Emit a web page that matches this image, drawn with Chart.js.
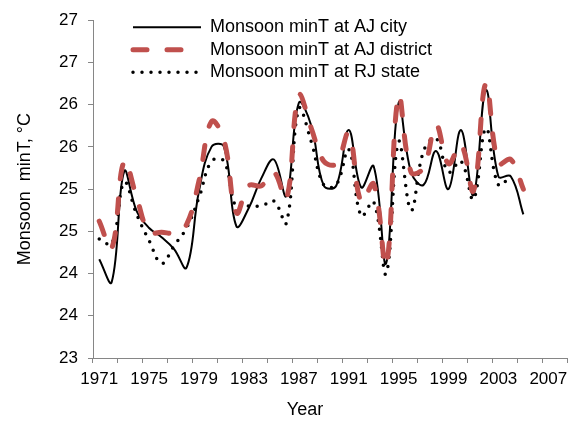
<!DOCTYPE html>
<html>
<head>
<meta charset="utf-8">
<script src="https://cdn.jsdelivr.net/npm/chart.js@4/dist/chart.umd.min.js"></script>
<style>
  html, body { margin: 0; padding: 0; background: #fff; }
  #wrap { width: 572px; height: 421px; }
</style>
</head>
<body>
<div id="wrap"><canvas id="chart"></canvas></div>
<script>
// categories on the x axis (data runs 1971-2005, the axis goes on to 2008)
const years = ['1971', '1972', '1973', '1974', '1975', '1976', '1977', '1978', '1979', '1980',
    '1981', '1982', '1983', '1984', '1985', '1986', '1987', '1988', '1989', '1990',
    '1991', '1992', '1993', '1994', '1995', '1996', '1997', '1998', '1999', '2000',
    '2001', '2002', '2003', '2004', '2005', '2006', '2007', '2008'];

const ajCity = [24.17, 23.9, 25.21, 24.74, 24.54, 24.43, 24.29, 24.07, 24.98, 25.5,
    25.5, 24.56, 24.78, 25.13, 25.35, 24.92, 26.02, 25.75, 25.04, 25.04,
    25.7, 25.02, 25.27, 24.12, 26.02, 25.2, 25.05, 25.45, 25.0, 25.7,
    24.93, 26.17, 25.15, 25.15, 24.7];

const ajDistrict = [24.62, 24.3, 25.33, 24.9, 24.49, 24.49, 24.48, 24.58, 25.1, 25.8,
    25.58, 24.72, 25.04, 25.04, 25.2, 24.88, 26.11, 25.72, 25.33, 25.3,
    25.66, 24.85, 25.06, 24.1, 26.1, 25.2, 25.25, 25.76, 25.3, 25.53,
    24.98, 26.25, 25.3, 25.35, 25.0];

const rjState = [24.41, 24.35, 25.08, 24.7, 24.39, 24.12, 24.33, 24.54, 24.9, 25.33,
    25.33, 24.78, 24.8, 24.8, 24.86, 24.6, 25.95, 25.56, 25.05, 25.05,
    25.47, 24.68, 24.85, 24.0, 25.56, 24.75, 25.45, 25.6, 25.2, 25.33,
    24.88, 25.72, 25.05, 25.15, null];

const axisGray = '#868686';
const textColor = '#000';

Chart.defaults.font.family = '"Liberation Sans", Arial, sans-serif';
Chart.defaults.font.size = 17;
Chart.defaults.color = textColor;

// put the legend inside the plot, a little right of the y axis
const legendSpot = {
    id: 'legendSpot',
    afterLayout(chart) {
        let lg = chart.legend;
        let area = chart.chartArea;
        lg.left = area.left + 35.5;
        lg.top = area.top - 6.5;
        lg.right = area.right;
        lg.bottom = area.bottom;
    }
};

new Chart(document.getElementById('chart'), {
    type: 'line',
    plugins: [legendSpot],
    data: {
        labels: years,
        datasets: [{
            label: 'Monsoon minT at AJ city',
            data: ajCity,
            borderColor: '#000',
            borderWidth: 2,
            order: 2,
        }, {
            label: 'Monsoon minT at AJ district',
            data: ajDistrict,
            borderColor: '#c0504d',
            borderWidth: 5,
            borderDash: [14, 20],
            borderCapStyle: 'round',
            order: 1,
        }, {
            label: 'Monsoon minT at RJ state',
            data: rjState,
            borderColor: '#000',
            borderWidth: 3.5,
            borderDash: [0, 9],
            borderCapStyle: 'round',
            order: 3,
        }]
    },
    options: {
        responsive: true,
        maintainAspectRatio: false,
        animation: false,
        devicePixelRatio: 1,
        layout: {
            padding: { top: 18, right: 5, bottom: 0, left: 0 }
        },
        elements: {
            point: { radius: 0 },
            line: { tension: 0.4, fill: false }
        },
        scales: {
            x: {
                type: 'category',
                offset: true,
                grid: {
                    offset: true,
                    drawOnChartArea: false,
                    tickLength: 5,
                    color: c => (c.index === undefined || c.index % 2 === 0) ? axisGray : 'rgba(0,0,0,0)',
                },
                border: { color: axisGray, width: 1 },
                ticks: {
                    autoSkip: false,
                    maxRotation: 0,
                    padding: 6,
                    callback: (v, i) => i % 4 === 0 ? years[i] : '',
                },
                title: {
                    display: true,
                    // trailing spaces pull the centred word left, as in the original
                    text: 'Year          ',
                    font: { size: 18 },
                    padding: { top: 4, bottom: 0 },
                },
                afterFit: s => { s.height = 63; },
            },
            y: {
                min: 23,
                max: 27,
                ticks: {
                    stepSize: 0.5,
                    padding: 10,
                    callback: v => Math.round(v),
                },
                grid: {
                    drawOnChartArea: false,
                    tickLength: 5,
                    color: axisGray,
                },
                border: { color: axisGray, width: 1 },
                title: {
                    display: true,
                    text: 'Monsoon  minT, °C',
                    font: { size: 18 },
                    padding: { top: 14, bottom: 0 },
                },
                afterFit: s => { s.width = 93; },
            }
        },
        plugins: {
            tooltip: { enabled: false },
            legend: {
                position: 'chartArea',
                align: 'start',
                labels: {
                    usePointStyle: true,
                    pointStyle: 'line',
                    pointStyleWidth: 68,
                    padding: 4.5,
                    color: textColor,
                    font: { size: 18 },
                    generateLabels: chart => chart.data.datasets.map((ds, i) => ({
                        text: ds.label,
                        strokeStyle: ds.borderColor,
                        fillStyle: ds.borderColor,
                        lineWidth: ds.borderWidth,
                        lineDash: ds.borderDash || [],
                        lineCap: ds.borderCapStyle || 'butt',
                        pointStyle: 'line',
                        fontColor: textColor,
                        hidden: false,
                        datasetIndex: i,
                    })),
                },
            },
        },
    }
});
</script>
</body>
</html>
